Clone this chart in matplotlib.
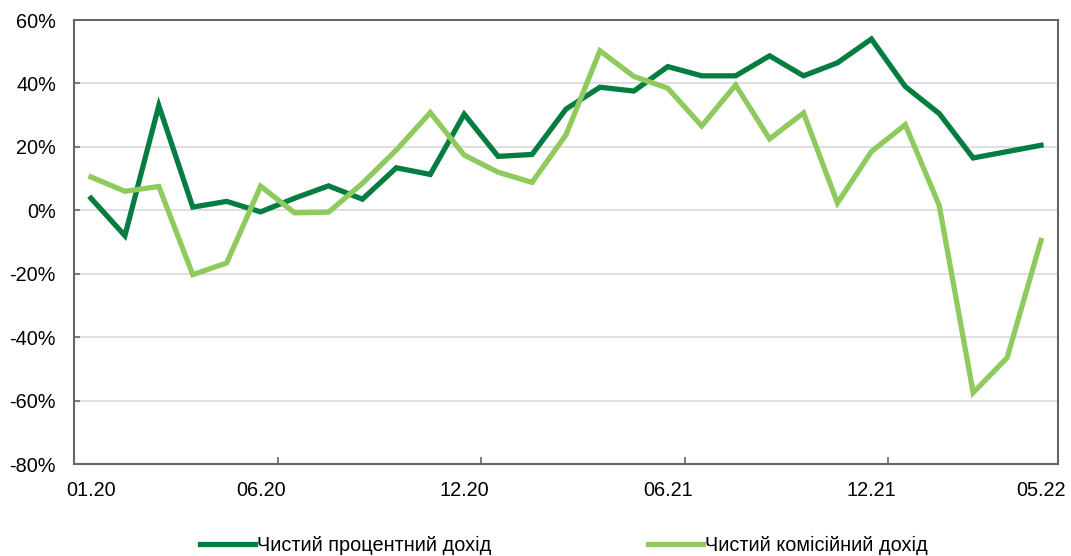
import matplotlib
matplotlib.use("Agg")
import matplotlib.pyplot as plt
from matplotlib.lines import Line2D

months = ["01.20","02.20","03.20","04.20","05.20","06.20","07.20","08.20","09.20","10.20","11.20","12.20",
          "01.21","02.21","03.21","04.21","05.21","06.21","07.21","08.21","09.21","10.21","11.21","12.21",
          "01.22","02.22","03.22","04.22","05.22"]
net_interest = [3.8, -8.0, 33.0, 1.0, 2.8, -0.5, 3.8, 7.7, 3.5, 13.4, 11.3, 30.3,
                17.0, 17.6, 31.9, 38.8, 37.6, 45.3, 42.4, 42.4, 48.7, 42.4, 46.5, 54.0,
                39.0, 30.5, 16.5, 18.5, 20.5]
net_commission = [10.5, 6.0, 7.5, -20.3, -16.6, 7.6, -0.8, -0.6, 8.5, 19.0, 30.8, 17.4,
                  12.0, 8.8, 23.8, 50.3, 42.2, 38.5, 26.6, 39.5, 22.5, 30.7, 2.3, 18.5,
                  27.0, 1.5, -57.5, -46.5, -9.5]
label_months = ["01.20", "06.20", "12.20", "06.21", "12.21", "05.22"]
yticks = [-80, -60, -40, -20, 0, 20, 40, 60]
series_names = ["Чистий процентний дохід", "Чистий комісійний дохід"]
colors = ["#067d40", "#8fca5e"]

plt.rcParams['font.family'] = ['Liberation Sans', 'DejaVu Sans']
FS = 14.3

fig = plt.figure(figsize=(10.71, 5.56), dpi=100)
ax = fig.add_axes([74/1071, 1-464/556, (1058-74)/1071, (464-20)/556])

x = list(range(len(months)))
ax.plot(x, net_interest, color=colors[0], lw=3.8, solid_joinstyle='miter', zorder=3)
ax.plot(x, net_commission, color=colors[1], lw=3.8, solid_joinstyle='miter', zorder=3)

ax.set_xlim(-0.5, len(months) - 0.5)
ax.set_ylim(-80, 60)
ax.set_yticks(yticks)
ax.set_yticklabels([f"{v}%" for v in yticks], fontsize=FS)
ax.yaxis.grid(True, color="#d9d9d9", lw=1.2)
ax.set_axisbelow(True)

# category tick marks every 6 months at boundaries; labels at chosen months
ax.set_xticks([5.5, 11.5, 17.5, 23.5])
ax.set_xticklabels([])
ax.tick_params(axis='x', which='major', length=5, width=1.2, color="#666666", direction='in')
ax.set_xticks([months.index(m) for m in label_months], minor=True)
ax.set_xticklabels(label_months, minor=True, fontsize=FS)
ax.tick_params(axis='x', which='minor', length=0, pad=12)
ax.tick_params(axis='y', length=4, width=1.2, color="#666666", direction='in', pad=13)

for side in ax.spines.values():
    side.set_color("#666666")
    side.set_linewidth(1.5)

handles = [Line2D([], [], color=c, lw=3.8) for c in colors]
fig.legend(handles, series_names, loc='center left', bbox_to_anchor=(200/1071, 1-545/556), ncol=2,
           frameon=False, fontsize=FS, handlelength=2.75, handletextpad=0.12, columnspacing=7.9,
           borderpad=0, borderaxespad=0)

fig.savefig("out.png", dpi=100)
